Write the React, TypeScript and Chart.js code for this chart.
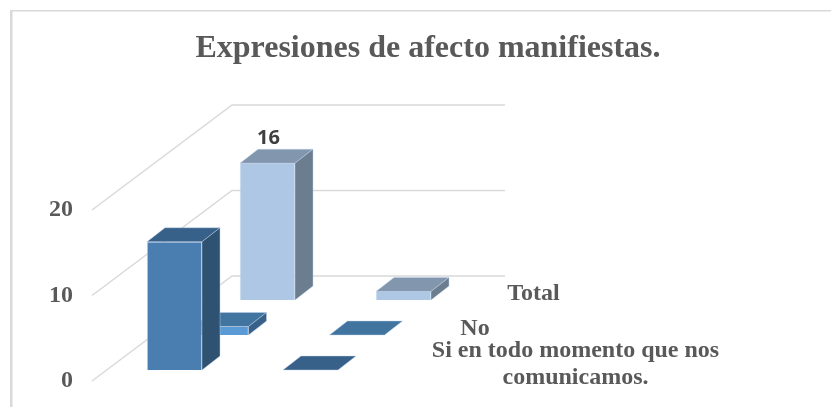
import React, { useEffect, useRef } from "react";
import { Chart, registerables } from "chart.js";

Chart.register(...registerables);

const titleText = "Expresiones de afecto manifiestas.";
const categories = ["Frecuencia", "Porcentaje"];
const seriesNames = ["Si en todo momento que nos comunicamos.", "No", "Total"];
const siValues = [15, 0];
const noValues = [1, 0];
const totalValues = [16, 1];
const yTicks = [0, 10, 20];
const labelledValue = { series: 2, category: 0 };

const frontColors = ["#4A7EB1", "#5B9BD5", "#AEC7E5"];
const topColors = ["#38618A", "#41749F", "#8297AE"];
const sideColors = ["#2F5272", "#38618A", "#6C7D90"];
const edgeColor = "rgba(190,212,236,0.55)";
const gridColor = "#D9D9D9";
const textColor = "#595959";
const serif = "'Liberation Serif', serif";

const shift = (i: number) => ({ dx: 14.5 + 46.5 * i, dy: -11 - 35 * i });
const depth = { dx: 18, dy: -14 };
const wall = { dx: 140, dy: -105, right: 505 };
const seriesLabelPos = [
  { x: 575.5, y: [351, 378], lines: ["Si en todo momento que nos", "comunicamos."] },
  { x: 475, y: [329], lines: ["No"] },
  { x: 533.5, y: [293.5], lines: ["Total"] },
];

const poly = (ctx: CanvasRenderingContext2D, pts: number[][], fill: string) => {
  ctx.beginPath();
  pts.forEach(([x, y], i) => (i ? ctx.lineTo(x, y) : ctx.moveTo(x, y)));
  ctx.closePath();
  ctx.fillStyle = fill;
  ctx.fill();
  ctx.strokeStyle = edgeColor;
  ctx.lineWidth = 0.8;
  ctx.stroke();
};

const scene3d = {
  id: "scene3d",
  beforeDraw(chart: any) {
    const { ctx, chartArea, scales } = chart;
    ctx.save();
    ctx.strokeStyle = gridColor;
    ctx.lineWidth = 1.5;
    ctx.beginPath();
    ctx.moveTo(11, 10.75);
    ctx.lineTo(831, 10.75);
    ctx.stroke();
    ctx.lineWidth = 2.5;
    ctx.beginPath();
    ctx.moveTo(11.25, 10);
    ctx.lineTo(11.25, 407);
    ctx.stroke();
    ctx.lineWidth = 1.5;
    scales.y.ticks.forEach((t: any) => {
      const y = scales.y.getPixelForValue(t.value);
      ctx.beginPath();
      ctx.moveTo(chartArea.left, y);
      ctx.lineTo(chartArea.left + wall.dx, y + wall.dy);
      ctx.lineTo(wall.right, y + wall.dy);
      ctx.stroke();
    });
    ctx.restore();
  },
  beforeDatasetDraw(chart: any, args: any) {
    const s = shift(args.index);
    chart.ctx.save();
    chart.ctx.translate(s.dx, s.dy);
  },
  afterDatasetDraw(chart: any, args: any) {
    const { ctx } = chart;
    const i = args.index;
    args.meta.data.forEach((bar: any) => {
      const { x, y, base, width } = bar.getProps(["x", "y", "base", "width"], true);
      const l = x - width / 2;
      const r = x + width / 2;
      poly(ctx, [[l, y], [r, y], [r + depth.dx, y + depth.dy], [l + depth.dx, y + depth.dy]], topColors[i]);
      if (base - y > 0.5) {
        poly(ctx, [[r, y], [r, base], [r + depth.dx, base + depth.dy], [r + depth.dx, y + depth.dy]], sideColors[i]);
      }
    });
    ctx.restore();
  },
  afterDraw(chart: any) {
    const { ctx } = chart;
    ctx.save();
    const bar = chart.getDatasetMeta(labelledValue.series).data[labelledValue.category];
    const s = shift(labelledValue.series);
    ctx.textAlign = "center";
    ctx.textBaseline = "middle";
    ctx.fillStyle = "#404040";
    ctx.font = "bold 20px 'Open Sans', sans-serif";
    const v = chart.data.datasets[labelledValue.series].data[labelledValue.category];
    ctx.fillText(String(v), bar.x + s.dx + 1, bar.y + s.dy - 24.7);
    ctx.fillStyle = textColor;
    ctx.font = `bold 24px ${serif}`;
    seriesLabelPos.forEach((p) => {
      p.lines.forEach((line, k) => ctx.fillText(line, p.x, p.y[k]));
    });
    ctx.restore();
  },
};

export default function App() {
  const ref = useRef<HTMLCanvasElement | null>(null);
  useEffect(() => {
    const chart = new Chart(ref.current as HTMLCanvasElement, {
      type: "bar",
      data: {
        labels: categories,
        datasets: [siValues, noValues, totalValues].map((data, i) => ({
          label: seriesNames[i],
          data,
          backgroundColor: frontColors[i],
          borderColor: edgeColor,
          borderWidth: 1,
          barThickness: 55,
          grouped: false,
        })),
      },
      options: {
        responsive: false,
        animation: false,
        layout: { padding: { left: 25, right: 0, top: 0, bottom: 26 } },
        plugins: {
          legend: { display: false },
          tooltip: { enabled: false },
          title: {
            display: true,
            text: titleText,
            color: textColor,
            font: { family: serif, size: 32, weight: "bold" },
            padding: { top: 30, bottom: 141.6 },
          },
        },
        scales: {
          x: { display: false, offset: true },
          y: {
            min: 0,
            max: 20,
            afterBuildTicks: (s: any) => {
              s.ticks = yTicks.map((value) => ({ value }));
            },
            afterFit: (s: any) => {
              s.width = 67;
              s.paddingTop = 0;
              s.paddingBottom = 0;
            },
            grid: { display: false, drawTicks: false },
            border: { display: false },
            ticks: {
              color: textColor,
              padding: 19,
              font: { family: serif, size: 24, weight: "bold" },
            },
          },
          y2: {
            position: "right",
            afterFit: (s: any) => {
              s.width = 467;
              s.paddingTop = 0;
              s.paddingBottom = 0;
            },
            grid: { display: false },
            border: { display: false },
            ticks: { display: false },
          },
        },
      },
      plugins: [scene3d],
    } as any);
    return () => chart.destroy();
  }, []);
  return (
    <div style={{ position: "absolute", left: 0, top: 0 }}>
      <canvas ref={ref} width={831} height={407} style={{ display: "block" }} />
    </div>
  );
}
